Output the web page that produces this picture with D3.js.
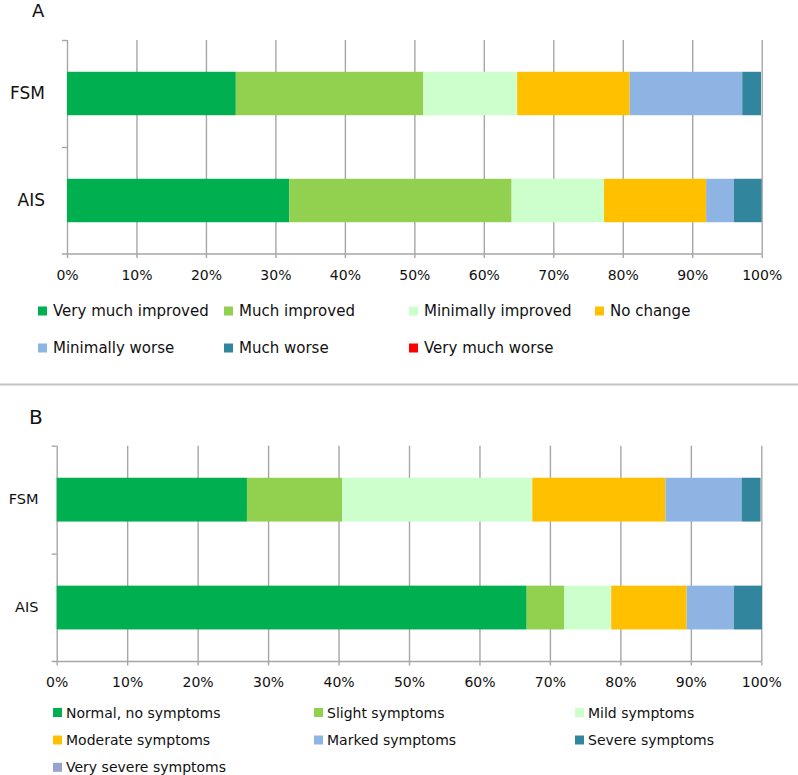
<!DOCTYPE html>
<html>
<head>
<meta charset="utf-8">
<script src="https://cdn.jsdelivr.net/npm/d3@7/dist/d3.min.js"></script>
<style>
  html, body { margin: 0; padding: 0; background: #fff; }
  svg { display: block; font-family: "DejaVu Sans", sans-serif; }
</style>
</head>
<body>
<svg id="chart" width="798" height="775"></svg>
<script>
// ---- data ----
const categories = ["FSM", "AIS"];
const tickValues = [0, 10, 20, 30, 40, 50, 60, 70, 80, 90, 100];

const seriesA = ["Very much improved", "Much improved", "Minimally improved", "No change",
                 "Minimally worse", "Much worse", "Very much worse"];
const colorsA = ["#00B050", "#92D050", "#CCFFCC", "#FFC000", "#8EB4E3", "#31859C", "#FF0000"];
const fsmA = [24.3, 27.0, 13.5, 16.2, 16.2, 2.7, 0];
const aisA = [32.0, 32.0, 13.3, 14.7, 4.0, 4.0, 0];

const seriesB = ["Normal, no symptoms", "Slight symptoms", "Mild symptoms", "Moderate symptoms",
                 "Marked symptoms", "Severe symptoms", "Very severe symptoms"];
const colorsB = ["#00B050", "#92D050", "#CCFFCC", "#FFC000", "#8EB4E3", "#31859C", "#95A3CF"];
const fsmB = [27.0, 13.5, 27.0, 18.9, 10.8, 2.7, 0];
const aisB = [66.7, 5.3, 6.7, 10.7, 6.7, 4.0, 0];

const svg = d3.select("#chart");
svg.append("rect").attr("width", 798).attr("height", 775).attr("fill", "#fff");

function panel(cfg) {
  const g = svg.append("g");
  const x = d3.scaleLinear().domain([0, 100]).range([cfg.x0, cfg.x1]);
  const y = d3.scaleBand().domain(categories).range([cfg.top, cfg.bottom])
              .paddingInner(0.594).paddingOuter(0.297);
  const h = cfg.bottom - cfg.top;

  // gridlines
  g.append("g").attr("transform", `translate(0,${cfg.bottom})`)
    .call(d3.axisBottom(x).tickValues(tickValues).tickSize(-h).tickFormat(""))
    .call(a => a.select(".domain").remove())
    .call(a => a.selectAll("line").attr("stroke", "#a6a6a6").attr("stroke-width", 1.4));

  // bars
  const rows = categories.map((c, i) => {
    const o = { cat: c };
    cfg.series.forEach((s, j) => o[s] = cfg.values[i][j]);
    return o;
  });
  const stacked = d3.stack().keys(cfg.series)(rows);
  g.append("g").selectAll("g").data(stacked).join("g")
    .attr("fill", (d, i) => cfg.colors[i])
    .selectAll("rect").data(d => d).join("rect")
    .attr("x", d => x(d[0]))
    .attr("width", d => Math.max(0, x(d[1]) - x(d[0])))
    .attr("y", d => y(d.data.cat))
    .attr("height", y.bandwidth());

  // bottom axis
  const xa = g.append("g").attr("transform", `translate(0,${cfg.bottom})`)
    .call(d3.axisBottom(x).tickValues(tickValues).tickSize(4).tickSizeOuter(0).tickPadding(12)
          .tickFormat(d => d + "%"));
  xa.select(".domain").remove();
  xa.selectAll("line").attr("stroke", "#a6a6a6").attr("stroke-width", 1.4);
  xa.selectAll("text").attr("font-size", 14).attr("fill", "#111")
    .attr("font-family", "DejaVu Sans, sans-serif");
  g.append("line").attr("x1", cfg.x0 - 5).attr("x2", cfg.x1)
    .attr("y1", cfg.bottom).attr("y2", cfg.bottom)
    .attr("stroke", "#a6a6a6").attr("stroke-width", 1.4);

  // left axis ticks at band boundaries
  const yb = d3.scaleLinear().domain([0, 2]).range([cfg.top, cfg.bottom]);
  const ya = g.append("g").attr("transform", `translate(${cfg.x0},0)`)
    .call(d3.axisLeft(yb).tickValues([0, 1]).tickSize(5).tickFormat(""));
  ya.select(".domain").remove();
  ya.selectAll("line").attr("stroke", "#a6a6a6").attr("stroke-width", 1.4);

  // category labels
  const yl = g.append("g").attr("transform", `translate(${cfg.labelX},0)`)
    .call(d3.axisLeft(y).tickSize(0).tickPadding(0));
  yl.select(".domain").remove();
  yl.selectAll("text").attr("font-size", cfg.catSize).attr("fill", "#111")
    .attr("font-family", "DejaVu Sans, sans-serif");

  // title
  svg.append("text").attr("x", cfg.titleX).attr("y", cfg.titleY)
    .attr("font-size", cfg.titleSize).attr("fill", "#111").text(cfg.title);

  // legend
  const lg = svg.append("g");
  cfg.series.forEach((s, i) => {
    const col = i % cfg.perRow, row = Math.floor(i / cfg.perRow);
    const tx = cfg.legX[col], ty = cfg.legY[row];
    lg.append("rect").attr("x", tx - cfg.swGap - 9).attr("y", ty - 4.5)
      .attr("width", 9).attr("height", 9).attr("fill", cfg.colors[i]);
    lg.append("text").attr("x", tx).attr("y", ty).attr("dy", "0.36em")
      .attr("font-size", cfg.legSize).attr("fill", "#111").text(s);
  });
}

panel({
  series: seriesA, colors: colorsA, values: [fsmA, aisA],
  x0: 67, x1: 761.7, top: 40, bottom: 254, labelX: 45, catSize: 17,
  title: "A", titleX: 32, titleY: 17, titleSize: 18,
  perRow: 4, legX: [53, 239, 424, 610], legY: [311, 348], legSize: 15, swGap: 6
});

panel({
  series: seriesB, colors: colorsB, values: [fsmB, aisB],
  x0: 56.7, x1: 761.3, top: 445.7, bottom: 661.5, labelX: 38.5, catSize: 14.5,
  title: "B", titleX: 29, titleY: 424, titleSize: 20,
  perRow: 3, legX: [66, 327, 588], legY: [712.5, 740, 767.3], legSize: 14, swGap: 4
});

// separator
svg.append("line").attr("x1", 0).attr("x2", 798).attr("y1", 384.5).attr("y2", 384.5)
  .attr("stroke", "#c4c4c4").attr("stroke-width", 2);
</script>
</body>
</html>
